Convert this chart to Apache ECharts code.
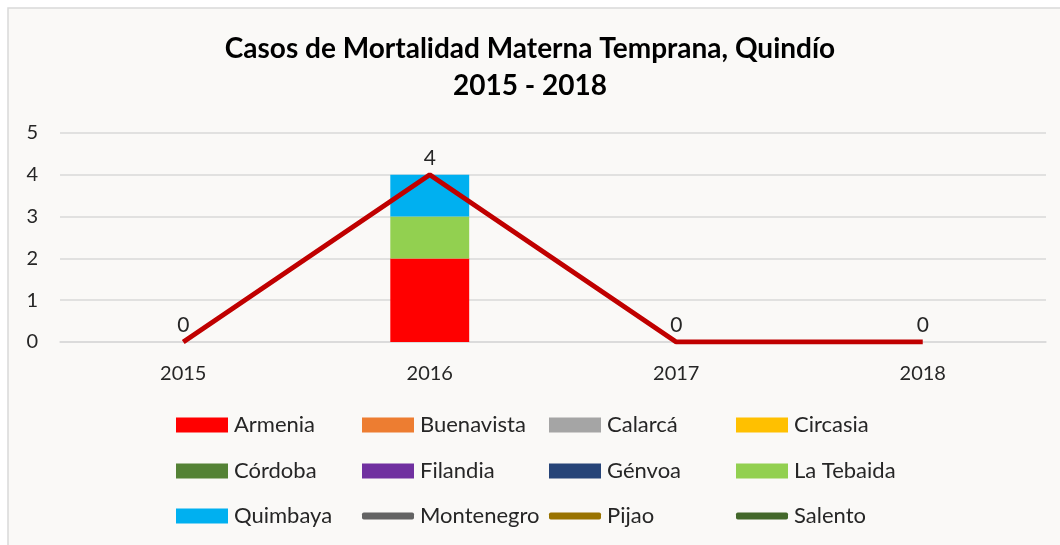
<!DOCTYPE html>
<html>
<head>
<meta charset="utf-8">
<script src="https://cdn.jsdelivr.net/npm/echarts@6/dist/echarts.min.js"></script>
<style>
  html, body { margin: 0; padding: 0; background: #ffffff; }
  #chart { width: 1060px; height: 545px; }
</style>
</head>
<body>
<div id="chart"></div>
<script>
var years = ['2015', '2016', '2017', '2018'];
var yTicks = [0, 1, 2, 3, 4, 5];

// municipios con barras apiladas
var barNames = ['Armenia', 'Buenavista', 'Calarcá', 'Circasia', 'Córdoba', 'Filandia', 'Génvoa', 'La Tebaida', 'Quimbaya'];
var barColors = ['#ff0000', '#ed7d31', '#a5a5a5', '#ffc000', '#548235', '#7030a0', '#264478', '#92d050', '#00b0f0'];
var armenia = [0, 2, 0, 0];
var buenavista = [0, 0, 0, 0];
var calarca = [0, 0, 0, 0];
var circasia = [0, 0, 0, 0];
var cordoba = [0, 0, 0, 0];
var filandia = [0, 0, 0, 0];
var genvoa = [0, 0, 0, 0];
var laTebaida = [0, 1, 0, 0];
var quimbaya = [0, 1, 0, 0];
var barValues = [armenia, buenavista, calarca, circasia, cordoba, filandia, genvoa, laTebaida, quimbaya];

// municipios como lineas (sin datos)
var lineNames = ['Montenegro', 'Pijao', 'Salento'];
var lineColors = ['#636363', '#997300', '#43682b'];
var montenegro = [null, null, null, null];
var pijao = [null, null, null, null];
var salento = [null, null, null, null];
var lineValues = [montenegro, pijao, salento];

var total = [0, 4, 0, 0];

var fontFam = 'Lato, "Open Sans", sans-serif';

var series = [];
barNames.forEach(function (name, i) {
  series.push({
    name: name,
    type: 'bar',
    stack: 'casos',
    barWidth: '32%',
    data: barValues[i],
    itemStyle: { color: barColors[i] }
  });
});
lineNames.forEach(function (name, i) {
  series.push({
    name: name,
    type: 'line',
    data: lineValues[i],
    symbol: 'none',
    lineStyle: { color: lineColors[i], width: 4 },
    itemStyle: { color: lineColors[i] }
  });
});
series.push({
  name: 'Total',
  type: 'line',
  data: total,
  symbol: 'circle',
  symbolSize: 1,
  showSymbol: true,
  z: 5,
  itemStyle: { color: 'rgba(0,0,0,0)' },
  lineStyle: { color: '#c00000', width: 5 },
  label: {
    show: true,
    position: 'top',
    distance: 6,
    color: '#262626',
    fontSize: 21,
    fontFamily: fontFam
  }
});

// leyenda: una por cada elemento para columnas fijas
var legendCols = [176, 362, 549, 736];
var legendRows = [414, 460, 505];
var allNames = barNames.concat(lineNames);
var legends = allNames.map(function (name, i) {
  var isLine = i >= barNames.length;
  return {
    data: [name],
    left: legendCols[i % 4],
    top: legendRows[Math.floor(i / 4)],
    itemWidth: 52,
    itemHeight: isLine ? 7 : 15,
    itemGap: 0,
    icon: isLine ? 'roundRect' : 'rect',
    selectedMode: false,
    padding: 0,
    textStyle: { fontSize: 22, color: '#262626', fontFamily: fontFam, padding: [0, 0, 0, 1] }
  };
});

var myChart = echarts.init(document.getElementById('chart'));
var option = {
  backgroundColor: '#ffffff',
  animation: false,
  graphic: [{
    type: 'rect',
    z: -10,
    shape: { x: 8, y: 8, width: 1070, height: 560 },
    style: { fill: '#faf9f7', stroke: '#d9d9d9', lineWidth: 1.5 }
  }],
  title: {
    text: 'Casos de Mortalidad Materna Temprana, Quindío\n2015 - 2018',
    left: 'center',
    top: 25,
    textStyle: {
      fontSize: 28,
      fontWeight: 'bold',
      color: '#000000',
      fontFamily: fontFam,
      lineHeight: 37
    }
  },
  legend: legends,
  grid: {
    left: 60,
    right: 14,
    top: 133,
    bottom: 203,
    containLabel: false
  },
  xAxis: {
    type: 'category',
    data: years,
    axisLine: { show: true, lineStyle: { color: '#d9d9d9', width: 1.5 } },
    axisTick: { show: false },
    axisLabel: { color: '#262626', fontSize: 20, margin: 22, fontFamily: fontFam }
  },
  yAxis: {
    type: 'value',
    min: yTicks[0],
    max: yTicks[yTicks.length - 1],
    interval: 1,
    axisLine: { show: false },
    axisTick: { show: false },
    axisLabel: { color: '#262626', fontSize: 20, margin: 22, fontFamily: fontFam },
    splitLine: { lineStyle: { color: '#d9d9d9', width: 1.5 } }
  },
  series: series
};
myChart.setOption(option);
</script>
</body>
</html>
